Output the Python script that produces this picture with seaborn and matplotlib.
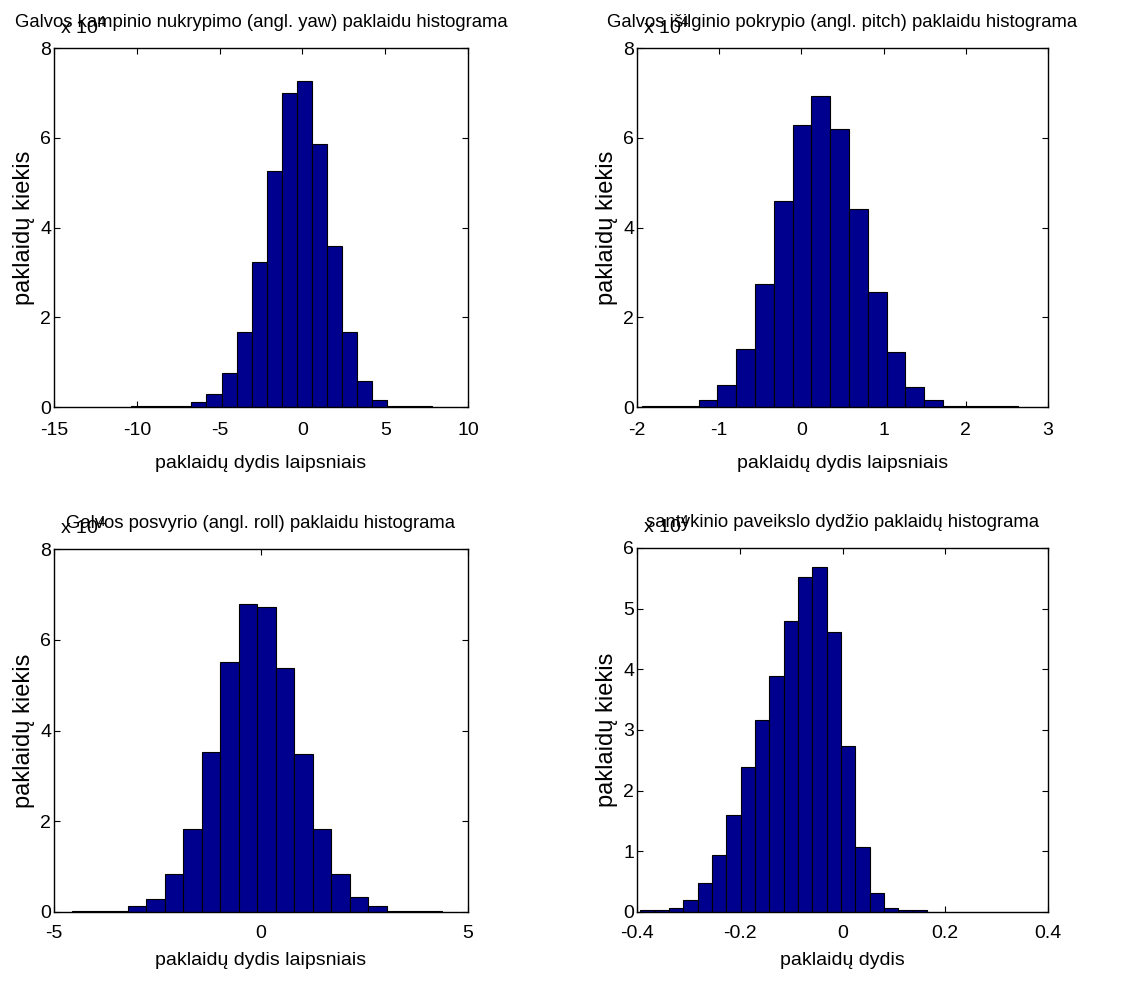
import numpy as np
import pandas as pd
import matplotlib
matplotlib.use("Agg")
import matplotlib.pyplot as plt
from matplotlib.ticker import FormatStrFormatter
import seaborn as sns

# ---------------- data (counts) ----------------
yaw_range = (-10.33, 7.82)
yaw_counts = [300, 300, 300, 300, 1100, 2900, 7500, 16800, 32300, 52700,
              70000, 72600, 58600, 35800, 16800, 5800, 1600, 300, 300, 300]

pitch_range = (-1.935, 2.635)
pitch_counts = [300, 300, 300, 1600, 5000, 13000, 27400, 46000, 62800, 69200,
                62000, 44200, 25600, 12200, 4400, 1600, 300, 300, 300, 300]

roll_range = (-4.557, 4.372)
roll_counts = [300, 300, 300, 1250, 2900, 8300, 18400, 35200, 55000, 67900,
               67200, 53700, 34800, 18400, 8300, 3400, 1250, 300, 300, 300]

size_range = (-0.3935, 0.1646)
size_counts = [300, 300, 600, 1900, 4700, 9400, 16000, 23900, 31700, 38900,
               48000, 55200, 56800, 46100, 27300, 10700, 3100, 700, 300, 300]

titles = [
    "Galvos kampinio nukrypimo (angl. yaw) paklaidu histograma",
    "Galvos išilginio pokrypio (angl. pitch) paklaidu histograma",
    "Galvos posvyrio (angl. roll) paklaidu histograma",
    "santykinio paveikslo dydžio paklaidų histograma",
]
xlabels = ["paklaidų dydis laipsniais", "paklaidų dydis laipsniais",
           "paklaidų dydis laipsniais", "paklaidų dydis"]
ylabel = "paklaidų kiekis"
xlims = [(-15, 10), (-2, 3), (-5, 5), (-0.4, 0.4)]
xticks = [[-15, -10, -5, 0, 5, 10], [-2, -1, 0, 1, 2, 3], [-5, 0, 5],
          [-0.4, -0.2, 0, 0.2, 0.4]]
ylims = [(0, 8), (0, 8), (0, 8), (0, 6)]
yticks = [[0, 2, 4, 6, 8], [0, 2, 4, 6, 8], [0, 2, 4, 6, 8], [0, 1, 2, 3, 4, 5, 6]]
scale = 1e4

# ---------------- style ----------------
sns.set_style("ticks")
fam = "Liberation Sans"
plt.rcParams["font.family"] = [fam, "DejaVu Sans"]
plt.rcParams["axes.unicode_minus"] = False
plt.rcParams["mathtext.fontset"] = "custom"
plt.rcParams["mathtext.rm"] = fam
plt.rcParams["text.color"] = "black"
plt.rcParams["axes.labelcolor"] = "black"

W, H = 1134, 981
fig = plt.figure(figsize=(W / 100, H / 100), dpi=100)
fig.patch.set_facecolor("white")

# axes rectangles in pixels: left, top, right, bottom
rects = [(54, 48, 468, 407), (637, 48, 1048, 407),
         (54, 549, 468, 912), (637, 548, 1048, 912)]

datasets = [(yaw_range, yaw_counts), (pitch_range, pitch_counts),
            (roll_range, roll_counts), (size_range, size_counts)]

bar_color = "#00008F"
fs_tick = 14
fs_title = 13.3
fs_xlabel = 14
fs_ylabel = 17
xpad = [10.5, 10.5, 9.5, 9.5]
xlabelpad = [11.5, 11.5, 7, 7]

for i, ((lo, hi), counts) in enumerate(datasets):
    l, t, r, b = rects[i]
    ax = fig.add_axes([l / W, 1 - b / H, (r - l) / W, (b - t) / H])
    edges = np.linspace(lo, hi, len(counts) + 1).tolist()
    centers = [(edges[k] + edges[k + 1]) / 2 for k in range(len(counts))]
    df = pd.DataFrame({"x": centers, "w": [c / scale for c in counts]})
    sns.histplot(data=df, x="x", weights="w", bins=edges, ax=ax,
                 color=bar_color, alpha=1, edgecolor="black", linewidth=0.8)
    ax.set_xlim(*xlims[i])
    ax.set_ylim(*ylims[i])
    ax.set_xticks(xticks[i])
    ax.set_yticks(yticks[i])
    ax.xaxis.set_major_formatter(FormatStrFormatter("%g"))
    ax.yaxis.set_major_formatter(FormatStrFormatter("%g"))
    ax.tick_params(direction="in", length=4, width=0.8, top=True, right=True,
                   labelsize=fs_tick, colors="black")
    ax.tick_params(axis="x", pad=xpad[i])
    ax.tick_params(axis="y", pad=2)
    for sp in ax.spines.values():
        sp.set_visible(True)
        sp.set_linewidth(1.0)
        sp.set_color("black")
    ax.set_title(titles[i], fontsize=fs_title, pad=15, color="black")
    ax.set_xlabel(xlabels[i], fontsize=fs_xlabel, labelpad=xlabelpad[i])
    ax.set_ylabel(ylabel, fontsize=fs_ylabel, labelpad=4)
    ax.text(0.015, 1.04, r"x 10$^{4}$", transform=ax.transAxes,
            ha="left", va="baseline", fontsize=fs_tick, color="black")

fig.savefig("out.png", dpi=100, facecolor="white")
